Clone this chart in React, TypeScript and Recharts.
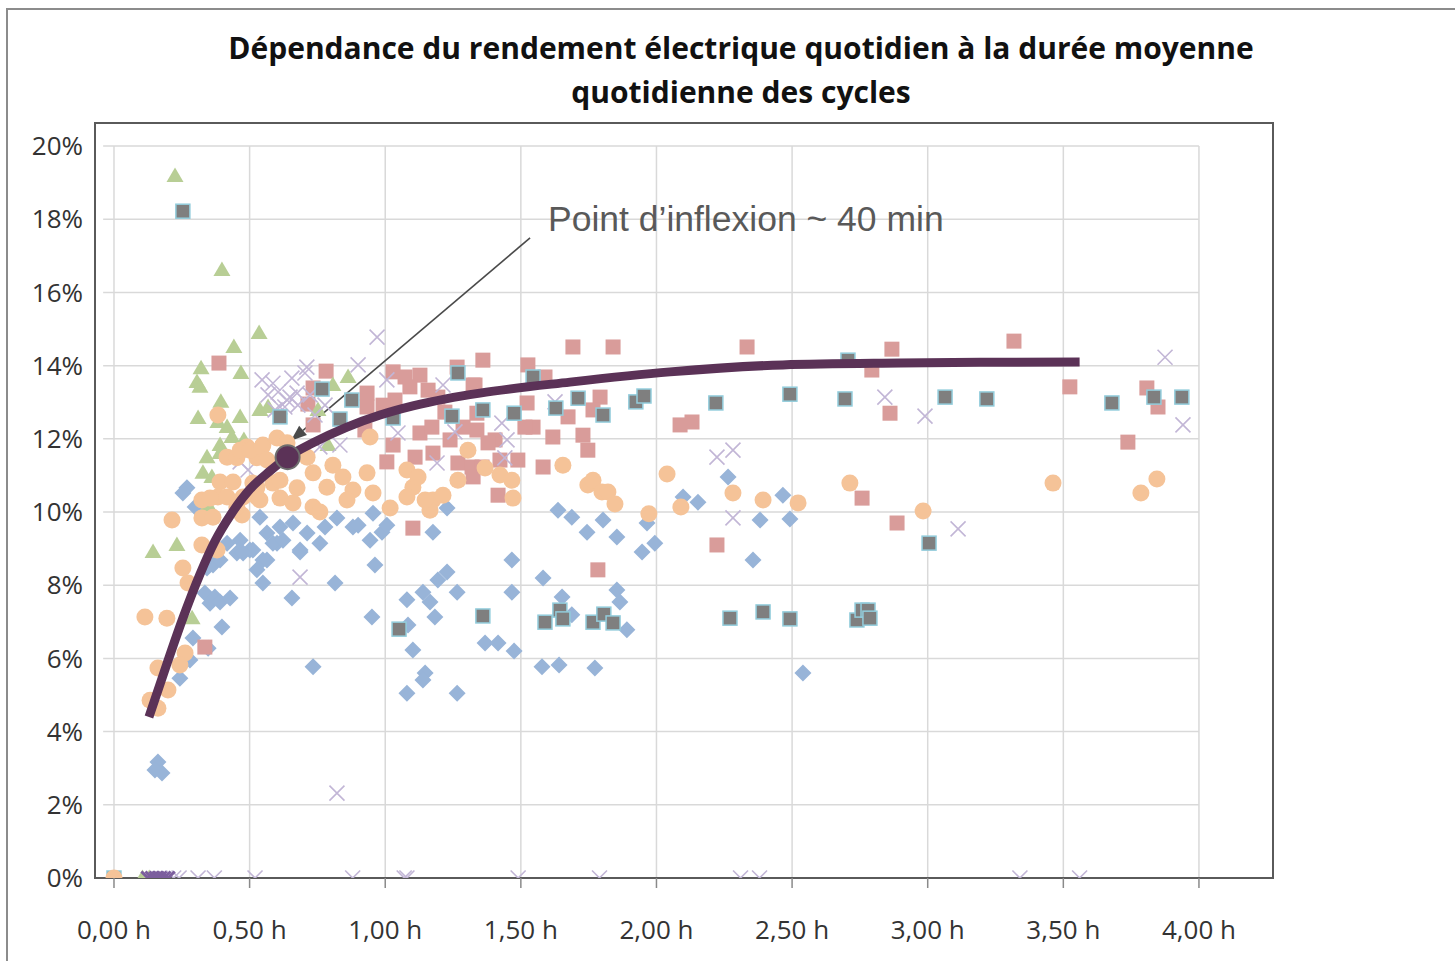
import React from 'react';
import { ComposedChart, Scatter, XAxis, YAxis, ReferenceLine, ReferenceArea, ReferenceDot, Curve } from 'recharts';

const titleLines = ['Dépendance du rendement électrique quotidien à la durée moyenne', 'quotidienne des cycles'];
const annotationText = 'Point d’inflexion ~ 40 min';

const xTicks = [0, 0.5, 1, 1.5, 2, 2.5, 3, 3.5, 4];
const yTicks = [0, 2, 4, 6, 8, 10, 12, 14, 16, 18, 20];

const blueDiamonds = [
  { x: 0.162, y: 3.17 }, { x: 0.151, y: 2.95 }, { x: 0.177, y: 2.87 }, { x: 0.243, y: 5.46 }, { x: 0.28, y: 5.96 },
  { x: 0.291, y: 6.56 }, { x: 0.347, y: 6.28 }, { x: 0.398, y: 6.86 }, { x: 0.335, y: 7.79 }, { x: 0.372, y: 7.68 },
  { x: 0.354, y: 7.51 }, { x: 0.391, y: 7.54 }, { x: 0.428, y: 7.65 }, { x: 0.343, y: 8.47 }, { x: 0.365, y: 8.55 },
  { x: 0.453, y: 8.88 }, { x: 0.501, y: 8.96 }, { x: 0.527, y: 8.42 }, { x: 0.549, y: 8.06 }, { x: 0.656, y: 7.65 },
  { x: 0.686, y: 8.96 }, { x: 0.549, y: 8.69 }, { x: 0.601, y: 9.15 }, { x: 0.269, y: 10.66 }, { x: 0.254, y: 10.52 },
  { x: 0.299, y: 10.14 }, { x: 0.815, y: 8.06 }, { x: 0.951, y: 7.13 }, { x: 0.962, y: 8.55 }, { x: 0.734, y: 5.77 },
  { x: 0.538, y: 9.86 }, { x: 0.564, y: 9.43 }, { x: 0.586, y: 9.15 }, { x: 0.623, y: 9.23 }, { x: 0.66, y: 9.7 },
  { x: 0.612, y: 9.59 }, { x: 0.712, y: 9.43 }, { x: 0.759, y: 9.15 }, { x: 0.822, y: 9.84 }, { x: 0.881, y: 9.59 },
  { x: 0.944, y: 9.23 }, { x: 0.988, y: 9.45 }, { x: 0.955, y: 9.97 }, { x: 0.778, y: 9.59 }, { x: 0.686, y: 8.91 },
  { x: 0.512, y: 8.96 }, { x: 0.476, y: 8.88 }, { x: 0.465, y: 9.23 }, { x: 0.417, y: 9.15 }, { x: 0.391, y: 8.69 },
  { x: 0.564, y: 8.69 }, { x: 1.176, y: 9.45 }, { x: 1.228, y: 10.11 }, { x: 1.08, y: 7.6 }, { x: 1.139, y: 7.81 },
  { x: 1.194, y: 8.14 }, { x: 1.228, y: 8.36 }, { x: 1.265, y: 7.81 }, { x: 1.183, y: 7.13 }, { x: 1.165, y: 7.54 },
  { x: 1.084, y: 6.91 }, { x: 1.102, y: 6.23 }, { x: 1.147, y: 5.6 }, { x: 1.139, y: 5.41 }, { x: 1.08, y: 5.05 },
  { x: 1.265, y: 5.05 }, { x: 0.9, y: 9.64 }, { x: 1.006, y: 9.64 }, { x: 1.637, y: 10.05 }, { x: 1.688, y: 9.86 },
  { x: 1.803, y: 9.78 }, { x: 1.744, y: 9.45 }, { x: 1.854, y: 9.32 }, { x: 1.965, y: 9.7 }, { x: 1.947, y: 8.91 },
  { x: 1.994, y: 9.15 }, { x: 2.264, y: 10.96 }, { x: 2.098, y: 10.41 }, { x: 2.153, y: 10.27 }, { x: 2.466, y: 10.46 },
  { x: 2.382, y: 9.78 }, { x: 2.492, y: 9.81 }, { x: 2.356, y: 8.69 }, { x: 1.467, y: 8.69 }, { x: 1.582, y: 8.2 },
  { x: 1.467, y: 7.81 }, { x: 1.652, y: 7.68 }, { x: 1.688, y: 7.19 }, { x: 1.854, y: 7.87 }, { x: 1.865, y: 7.54 },
  { x: 1.891, y: 6.78 }, { x: 1.368, y: 6.42 }, { x: 1.416, y: 6.42 }, { x: 1.475, y: 6.2 }, { x: 1.578, y: 5.77 },
  { x: 1.641, y: 5.82 }, { x: 1.773, y: 5.74 }, { x: 2.54, y: 5.6 },
];

const pinkSquares = [
  { x: 0.387, y: 14.07 }, { x: 0.335, y: 6.31 }, { x: 0.782, y: 13.85 }, { x: 0.715, y: 12.95 }, { x: 0.734, y: 13.39 },
  { x: 0.734, y: 12.38 }, { x: 0.933, y: 13.25 }, { x: 0.933, y: 12.87 }, { x: 0.925, y: 12.24 }, { x: 1.029, y: 13.83 },
  { x: 1.073, y: 13.69 }, { x: 1.128, y: 13.74 }, { x: 1.091, y: 13.42 }, { x: 1.029, y: 11.83 }, { x: 1.006, y: 11.37 },
  { x: 1.11, y: 11.5 }, { x: 1.176, y: 11.61 }, { x: 1.128, y: 12.16 }, { x: 1.172, y: 12.32 }, { x: 1.194, y: 13.14 },
  { x: 1.265, y: 13.96 }, { x: 1.324, y: 13.47 }, { x: 1.287, y: 12.32 }, { x: 1.268, y: 11.34 }, { x: 1.32, y: 11.23 },
  { x: 1.338, y: 12.7 }, { x: 1.102, y: 9.56 }, { x: 1.36, y: 14.15 }, { x: 1.526, y: 14.02 }, { x: 1.692, y: 14.51 },
  { x: 1.84, y: 14.51 }, { x: 1.331, y: 13.47 }, { x: 1.589, y: 13.69 }, { x: 1.523, y: 12.98 }, { x: 1.545, y: 12.32 },
  { x: 1.515, y: 12.32 }, { x: 1.618, y: 12.05 }, { x: 1.674, y: 12.6 }, { x: 1.792, y: 13.14 }, { x: 1.766, y: 12.79 },
  { x: 1.729, y: 12.1 }, { x: 1.747, y: 11.69 }, { x: 1.489, y: 11.42 }, { x: 1.582, y: 11.23 }, { x: 1.416, y: 10.46 },
  { x: 1.338, y: 12.24 }, { x: 1.405, y: 11.97 }, { x: 1.357, y: 11.23 }, { x: 1.324, y: 10.96 }, { x: 2.087, y: 12.38 },
  { x: 2.131, y: 12.46 }, { x: 1.784, y: 8.42 }, { x: 2.223, y: 9.1 }, { x: 2.334, y: 14.51 }, { x: 2.758, y: 10.38 },
  { x: 2.861, y: 12.7 }, { x: 2.868, y: 14.45 }, { x: 2.887, y: 9.7 }, { x: 2.794, y: 13.88 }, { x: 3.318, y: 14.67 },
  { x: 3.524, y: 13.42 }, { x: 3.808, y: 13.39 }, { x: 3.849, y: 12.87 }, { x: 3.738, y: 11.91 }, { x: 1.036, y: 13.06 },
  { x: 0.992, y: 12.92 }, { x: 1.158, y: 13.33 }, { x: 1.22, y: 12.73 }, { x: 1.239, y: 11.97 }, { x: 1.379, y: 11.89 },
  { x: 1.423, y: 11.42 },
];

const greenTriangles = [
  { x: 0.225, y: 19.18 }, { x: 0.398, y: 16.61 }, { x: 0.535, y: 14.89 }, { x: 0.442, y: 14.51 }, { x: 0.321, y: 13.93 },
  { x: 0.468, y: 13.8 }, { x: 0.306, y: 13.55 }, { x: 0.317, y: 13.42 }, { x: 0.394, y: 13.01 }, { x: 0.31, y: 12.57 },
  { x: 0.465, y: 12.6 }, { x: 0.383, y: 12.46 }, { x: 0.417, y: 12.32 }, { x: 0.435, y: 12.05 }, { x: 0.391, y: 11.83 },
  { x: 0.479, y: 11.97 }, { x: 0.343, y: 11.5 }, { x: 0.391, y: 11.61 }, { x: 0.328, y: 11.07 }, { x: 0.361, y: 10.96 },
  { x: 0.347, y: 10.19 }, { x: 0.232, y: 9.1 }, { x: 0.144, y: 8.91 }, { x: 0.288, y: 7.1 }, { x: 0.538, y: 12.79 },
  { x: 0.568, y: 12.87 }, { x: 0.807, y: 13.47 }, { x: 0.863, y: 13.69 }, { x: 0.752, y: 12.79 }, { x: 0.789, y: 11.83 },
  { x: 0.105, y: 0 }, { x: 0.13, y: 0 },
];

const purpleCrosses = [
  { x: 0.97, y: 14.78 }, { x: 0.586, y: 13.52 }, { x: 0.711, y: 13.96 }, { x: 0.9, y: 14.02 }, { x: 1.213, y: 13.47 },
  { x: 0.638, y: 13.06 }, { x: 0.675, y: 13.25 }, { x: 0.612, y: 12.87 }, { x: 1.006, y: 13.61 }, { x: 0.704, y: 13.8 },
  { x: 0.649, y: 13.14 }, { x: 0.63, y: 12.87 }, { x: 0.759, y: 11.78 }, { x: 0.833, y: 11.83 }, { x: 1.047, y: 12.16 },
  { x: 1.257, y: 12.19 }, { x: 1.191, y: 11.34 }, { x: 1.626, y: 13.01 }, { x: 1.43, y: 12.43 }, { x: 1.449, y: 11.97 },
  { x: 1.441, y: 11.48 }, { x: 2.223, y: 11.5 }, { x: 2.282, y: 11.69 }, { x: 2.282, y: 9.84 }, { x: 2.842, y: 13.14 },
  { x: 3.875, y: 14.23 }, { x: 3.941, y: 12.38 }, { x: 2.99, y: 12.62 }, { x: 3.112, y: 9.54 }, { x: 0.686, y: 8.22 },
  { x: 0.822, y: 2.32 }, { x: 0.546, y: 13.61 }, { x: 0.568, y: 13.2 }, { x: 0.605, y: 13.28 }, { x: 0.656, y: 13.66 },
  { x: 0.678, y: 12.92 }, { x: 0.594, y: 12.79 }, { x: 0.723, y: 13.2 }, { x: 0.741, y: 12.65 }, { x: 0.778, y: 12.92 },
  { x: 0.465, y: 11.37 }, { x: 0.494, y: 11.15 },
  { x: 0.22, y: 0 }, { x: 0.24, y: 0 }, { x: 0.31, y: 0 }, { x: 0.37, y: 0 }, { x: 0.52, y: 0 }, { x: 0.88, y: 0 },
  { x: 1.07, y: 0 }, { x: 1.08, y: 0 }, { x: 1.49, y: 0 }, { x: 1.79, y: 0 }, { x: 2.31, y: 0 }, { x: 2.38, y: 0 },
  { x: 3.34, y: 0 }, { x: 3.56, y: 0 },
];

const darkPurpleZeros = [
  { x: 0.125, y: 0 }, { x: 0.14, y: 0 }, { x: 0.155, y: 0 }, { x: 0.17, y: 0 }, { x: 0.185, y: 0 }, { x: 0.2, y: 0 },
];

const graySquares = [
  { x: 0, y: 0 }, { x: 0.254, y: 18.22 }, { x: 0.612, y: 12.6 }, { x: 0.767, y: 13.36 }, { x: 0.877, y: 13.06 },
  { x: 0.833, y: 12.54 }, { x: 1.029, y: 12.57 }, { x: 1.268, y: 13.8 }, { x: 1.246, y: 12.62 }, { x: 1.545, y: 13.69 },
  { x: 1.36, y: 12.79 }, { x: 1.475, y: 12.7 }, { x: 1.629, y: 12.84 }, { x: 1.711, y: 13.11 }, { x: 1.803, y: 12.65 },
  { x: 1.924, y: 13.01 }, { x: 1.954, y: 13.17 }, { x: 2.219, y: 12.98 }, { x: 2.492, y: 13.22 }, { x: 2.695, y: 13.09 },
  { x: 2.706, y: 14.15 }, { x: 1.36, y: 7.16 }, { x: 1.589, y: 6.99 }, { x: 1.644, y: 7.32 }, { x: 1.655, y: 7.08 },
  { x: 1.766, y: 6.99 }, { x: 1.806, y: 7.21 }, { x: 1.84, y: 6.97 }, { x: 2.271, y: 7.1 }, { x: 2.393, y: 7.27 },
  { x: 2.492, y: 7.08 }, { x: 2.739, y: 7.05 }, { x: 2.758, y: 7.32 }, { x: 2.78, y: 7.32 }, { x: 2.787, y: 7.1 },
  { x: 1.051, y: 6.8 }, { x: 3.064, y: 13.14 }, { x: 3.218, y: 13.09 }, { x: 3.679, y: 12.98 }, { x: 3.834, y: 13.14 },
  { x: 3.937, y: 13.14 }, { x: 3.005, y: 9.15 },
];

const orangeCircles = [
  { x: 0, y: 0 }, { x: 0.114, y: 7.13 }, { x: 0.195, y: 7.1 }, { x: 0.254, y: 8.47 }, { x: 0.273, y: 8.06 },
  { x: 0.262, y: 6.15 }, { x: 0.243, y: 5.82 }, { x: 0.162, y: 5.74 }, { x: 0.199, y: 5.14 }, { x: 0.133, y: 4.86 },
  { x: 0.162, y: 4.64 }, { x: 0.324, y: 9.1 }, { x: 0.38, y: 8.96 }, { x: 0.383, y: 12.65 }, { x: 0.214, y: 9.78 },
  { x: 0.324, y: 10.33 }, { x: 0.324, y: 9.84 }, { x: 0.383, y: 10.41 }, { x: 0.365, y: 9.86 }, { x: 0.472, y: 9.92 },
  { x: 0.354, y: 10.38 }, { x: 0.391, y: 10.82 }, { x: 0.439, y: 10.82 }, { x: 0.417, y: 11.5 }, { x: 0.453, y: 11.48 },
  { x: 0.49, y: 11.78 }, { x: 0.527, y: 11.48 }, { x: 0.549, y: 11.83 }, { x: 0.601, y: 12.02 }, { x: 0.527, y: 10.68 },
  { x: 0.586, y: 10.79 }, { x: 0.612, y: 10.87 }, { x: 0.476, y: 10.41 }, { x: 0.527, y: 10.41 }, { x: 0.453, y: 10.14 },
  { x: 0.538, y: 10.33 }, { x: 0.465, y: 11.69 }, { x: 0.501, y: 11.69 }, { x: 0.546, y: 11.78 }, { x: 0.638, y: 11.89 },
  { x: 0.564, y: 11.42 }, { x: 0.512, y: 10.79 }, { x: 0.417, y: 10.41 }, { x: 0.712, y: 11.5 }, { x: 0.734, y: 11.07 },
  { x: 0.807, y: 11.28 }, { x: 0.785, y: 10.68 }, { x: 0.675, y: 10.66 }, { x: 0.612, y: 10.38 }, { x: 0.66, y: 10.25 },
  { x: 0.734, y: 10.14 }, { x: 0.759, y: 10.0 }, { x: 0.844, y: 10.96 }, { x: 0.881, y: 10.6 }, { x: 0.933, y: 11.07 },
  { x: 0.955, y: 10.52 }, { x: 0.859, y: 10.33 }, { x: 1.018, y: 10.11 }, { x: 1.08, y: 11.15 }, { x: 1.102, y: 10.68 },
  { x: 1.121, y: 10.96 }, { x: 1.08, y: 10.41 }, { x: 1.176, y: 10.33 }, { x: 1.213, y: 10.46 }, { x: 1.165, y: 10.05 },
  { x: 0.944, y: 12.05 }, { x: 1.268, y: 10.87 }, { x: 1.305, y: 11.69 }, { x: 1.147, y: 10.33 }, { x: 1.368, y: 11.2 },
  { x: 1.423, y: 11.01 }, { x: 1.467, y: 10.87 }, { x: 1.471, y: 10.38 }, { x: 1.655, y: 11.28 }, { x: 1.747, y: 10.74 },
  { x: 1.766, y: 10.87 }, { x: 1.799, y: 10.55 }, { x: 1.821, y: 10.55 }, { x: 1.847, y: 10.22 }, { x: 1.972, y: 9.95 },
  { x: 2.039, y: 11.04 }, { x: 2.09, y: 10.14 }, { x: 2.282, y: 10.52 }, { x: 2.393, y: 10.33 }, { x: 2.522, y: 10.25 },
  { x: 2.713, y: 10.79 }, { x: 2.983, y: 10.03 }, { x: 3.462, y: 10.79 }, { x: 3.786, y: 10.52 }, { x: 3.845, y: 10.9 },
];

const trendX = [0.129, 0.195, 0.254, 0.317, 0.372, 0.428, 0.501, 0.575, 0.64, 0.734, 0.859, 0.981, 1.102, 1.228, 1.349, 1.681, 2.05, 2.466, 2.898, 3.193, 3.56];
const trendY = [4.4, 5.85, 7.1, 8.3, 9.2, 9.9, 10.62, 11.12, 11.5, 11.89, 12.32, 12.65, 12.9, 13.1, 13.25, 13.55, 13.83, 14.02, 14.07, 14.09, 14.1];
const trendData = trendX.map((x, i) => ({ x, y: trendY[i] }));

const inflexion = { x: 0.64, y: 11.5 };
const arrowStart = { x: 1.534, y: 17.49 };
const arrowTip = { x: 0.652, y: 11.95 };
const textAnchor = { x: 1.6, y: 18.0 };

const X_MIN = -0.07;
const X_MAX = 4.273;
const Y_MAX = 20.63;
const GRID_LEFT = -0.04;

const C_BLUE = '#98B4D8';
const C_PINK = '#D99C9A';
const C_GREEN = '#B8CE95';
const C_PURPLE = '#C2B6D6';
const C_ORANGE = '#F5C398';
const C_GRAY = '#7F7F7F';
const C_TREND = '#5B3257';

const Diamond = (p: any) => {
  const { cx, cy } = p;
  const r = 8.5;
  return <polygon points={`${cx},${cy - r} ${cx + r},${cy} ${cx},${cy + r} ${cx - r},${cy}`} fill={C_BLUE} />;
};
const PinkSquare = (p: any) => <rect x={p.cx - 7.5} y={p.cy - 7.5} width={15} height={15} fill={C_PINK} />;
const GraySquare = (p: any) => (
  <rect x={p.cx - 7} y={p.cy - 7} width={14} height={14} fill={C_GRAY} stroke="#93CDDC" strokeWidth={1.5} />
);
const Triangle = (p: any) => {
  const { cx, cy } = p;
  return <polygon points={`${cx},${cy - 8.5} ${cx + 8.5},${cy + 6} ${cx - 8.5},${cy + 6}`} fill={C_GREEN} />;
};
const Cross = (p: any) => {
  const { cx, cy } = p;
  const r = 7.5;
  return (
    <path d={`M${cx - r},${cy - r}L${cx + r},${cy + r}M${cx - r},${cy + r}L${cx + r},${cy - r}`} stroke={C_PURPLE} strokeWidth={1.6} fill="none" />
  );
};
const DarkCross = (p: any) => {
  const { cx, cy } = p;
  const r = 6.5;
  return (
    <path d={`M${cx - r},${cy - r}L${cx + r},${cy + r}M${cx - r},${cy + r}L${cx + r},${cy - r}`} stroke="#7C5E9E" strokeWidth={3} fill="none" />
  );
};
const Circle = (p: any) => <circle cx={p.cx} cy={p.cy} r={8.5} fill={C_ORANGE} />;
const NoMarker = () => <g />;

const TrendCurve = (p: any) => (
  <Curve points={p.points} type="monotoneX" stroke={C_TREND} strokeWidth={9} fill="none" strokeLinecap="butt" />
);

const ArrowShape = (p: any) => {
  let { x1, y1, x2, y2 } = p;
  if (y1 > y2) {
    [x1, y1, x2, y2] = [x2, y2, x1, y1];
  }
  const ang = Math.atan2(y2 - y1, x2 - x1);
  const L = 16;
  const W = 6;
  const bx = x2 - L * Math.cos(ang);
  const by = y2 - L * Math.sin(ang);
  const px = -Math.sin(ang) * W;
  const py = Math.cos(ang) * W;
  return (
    <g>
      <line x1={x1} y1={y1} x2={bx} y2={by} stroke="#4A4A4A" strokeWidth={1.6} />
      <polygon points={`${x2},${y2} ${bx + px},${by + py} ${bx - px},${by - py}`} fill="#4A4A4A" />
    </g>
  );
};

const AnnotationText = (p: any) => (
  <text x={p.cx} y={p.cy} dominantBaseline="central" fontFamily="'Liberation Sans', Arial, sans-serif" fontSize={35.5} fill="#595959">
    {annotationText}
  </text>
);

const InflexionDot = (p: any) => <circle cx={p.cx} cy={p.cy} r={12} fill={C_TREND} stroke="#6E6E6E" strokeWidth={2} />;

const fmtX = (v: number) => `${v.toFixed(2).replace('.', ',')} h`;
const fmtY = (v: number) => `${v}%`;

export default function App() {
  const tickFont = { fontFamily: "'Open Sans', sans-serif", fontSize: 26, fill: '#333333' };
  return (
    <div style={{ position: 'fixed', left: 0, top: 0, width: 1455, height: 961, overflow: 'hidden', background: '#fff' }}>
      <div style={{ position: 'absolute', left: 6, top: 8, width: 1480, height: 1000, border: '2px solid #8C8C8C', boxSizing: 'border-box' }} />
      <div
        style={{
          position: 'absolute', left: 0, top: 26, width: 1482, textAlign: 'center',
          fontFamily: "'Open Sans', sans-serif", fontWeight: 700, fontSize: 30, lineHeight: '44px', color: '#111',
        }}
      >
        {titleLines.map((t) => (
          <div key={t}>{t}</div>
        ))}
      </div>
      <div style={{ position: 'absolute', left: 0, top: 0 }}>
        <ComposedChart width={1455} height={961} margin={{ top: 123, right: 182, bottom: 0, left: 15 }}>
          <XAxis
            type="number" dataKey="x" domain={[X_MIN, X_MAX]} ticks={xTicks} tickFormatter={fmtX}
            allowDataOverflow height={83} tick={tickFont} tickSize={10} tickMargin={33}
            axisLine={{ stroke: '#5A5A5A', strokeWidth: 2 }} tickLine={{ stroke: '#8A8A8A', strokeWidth: 1.5 }}
          />
          <YAxis
            type="number" dataKey="y" domain={[0, Y_MAX]} ticks={yTicks} tickFormatter={fmtY}
            allowDataOverflow width={80} tick={tickFont} tickSize={0} tickMargin={12}
            axisLine={{ stroke: '#5A5A5A', strokeWidth: 2 }} tickLine={false}
          />
          {yTicks.filter((v) => v > 0).map((v) => (
            <ReferenceLine key={`h${v}`} segment={[{ x: GRID_LEFT, y: v }, { x: 4, y: v }]} stroke="#D9D9D9" strokeWidth={1.5} ifOverflow="visible" />
          ))}
          {xTicks.map((v) => (
            <ReferenceLine key={`v${v}`} segment={[{ x: v, y: 0 }, { x: v, y: 20 }]} stroke="#D9D9D9" strokeWidth={1.5} ifOverflow="visible" />
          ))}
          <ReferenceArea x1={X_MIN} x2={X_MAX} y1={0} y2={Y_MAX} fill="none" fillOpacity={0} stroke="#5A5A5A" strokeWidth={2} ifOverflow="visible" />
          <Scatter data={blueDiamonds} dataKey="y" shape={Diamond} isAnimationActive={false} />
          <Scatter data={pinkSquares} dataKey="y" shape={PinkSquare} isAnimationActive={false} />
          <Scatter data={greenTriangles} dataKey="y" shape={Triangle} isAnimationActive={false} />
          <Scatter data={purpleCrosses} dataKey="y" shape={Cross} isAnimationActive={false} />
          <Scatter data={darkPurpleZeros} dataKey="y" shape={DarkCross} isAnimationActive={false} />
          <Scatter data={graySquares} dataKey="y" shape={GraySquare} isAnimationActive={false} />
          <Scatter data={orangeCircles} dataKey="y" shape={Circle} isAnimationActive={false} />
          <Scatter
            data={trendData} dataKey="y" shape={NoMarker} isAnimationActive={false}
            line={TrendCurve} lineType="joint"
          />
          <ReferenceLine segment={[arrowStart, arrowTip]} shape={ArrowShape} ifOverflow="visible" />
          <ReferenceDot x={inflexion.x} y={inflexion.y} r={12} shape={InflexionDot} ifOverflow="visible" />
          <ReferenceDot x={textAnchor.x} y={textAnchor.y} r={0} shape={AnnotationText} ifOverflow="visible" />
        </ComposedChart>
      </div>
    </div>
  );
}
